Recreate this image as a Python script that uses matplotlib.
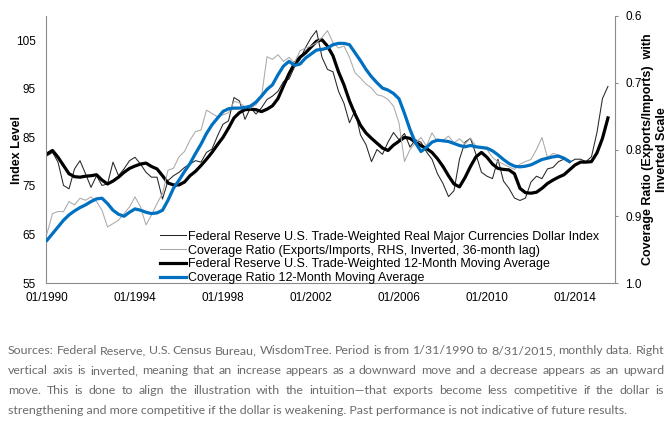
import matplotlib
matplotlib.use("Agg")
import matplotlib.pyplot as plt
import numpy as np

# quarterly observation dates (fractional years), Jan-1990 .. Jul-2015
quarters = np.arange(1990.0, 2015.51, 0.25)

# Fed real major-currencies dollar index (left axis)
dollar_index = [
    81.2, 81.9, 79.9, 75.1, 74.4, 78.5, 80.2, 77.5, 74.7, 77.1, 75.1, 75.4,
    79.9, 77.1, 78.5, 80.2, 80.9, 79.5, 77.8, 76.8, 76.8, 72.3, 76.1, 77.1,
    77.8, 78.8, 79.5, 80.2, 79.9, 81.9, 82.6, 85.3, 87.7, 88.4, 93.2, 92.5,
    88.7, 91.1, 89.8, 91.1, 92.8, 93.5, 94.5, 96.5, 97.0, 99.5, 101.0, 103.5,
    105.5, 107.0, 101.5, 99.0, 98.5, 94.5, 92.0, 88.0, 90.5, 85.5, 83.5, 80.0,
    82.5, 81.5, 84.0, 86.0, 84.5, 85.8, 83.0, 84.5, 84.0, 82.0, 80.5, 77.5,
    75.5, 72.8, 74.0, 80.5, 84.0, 84.8, 81.5, 77.8, 77.0, 76.5, 80.5, 76.0,
    74.5, 72.5, 72.0, 72.5, 75.8, 77.0, 76.5, 78.5, 78.8, 80.0, 80.5, 79.8,
    80.5, 80.5, 80.0, 81.0, 86.0, 93.0, 95.5,
]

# 12-month moving average of the dollar index (left axis)
dollar_ma = [
    81.6, 82.3, 80.9, 79.2, 77.5, 76.9, 76.8, 77.0, 77.1, 77.3, 76.2, 75.4,
    76.0, 76.8, 77.8, 78.6, 79.1, 79.5, 79.7, 79.0, 78.5, 77.1, 75.6, 75.2,
    75.2, 75.8, 77.1, 78.0, 79.2, 80.5, 81.9, 83.5, 85.0, 86.9, 89.0, 90.1,
    90.7, 90.8, 90.7, 90.3, 90.8, 91.5, 93.0, 95.6, 98.1, 100.2, 101.5, 102.4,
    103.6, 104.8, 105.1, 103.8, 101.8, 98.5, 95.8, 92.5, 89.8, 87.5, 85.9, 84.8,
    83.8, 82.8, 82.3, 83.4, 84.2, 85.0, 84.8, 84.0, 83.3, 82.7, 81.9, 80.6,
    79.0, 77.1, 75.4, 74.8, 76.7, 79.0, 81.0, 81.9, 80.9, 79.5, 78.6, 78.4,
    78.3, 77.5, 74.5, 73.6, 73.5, 73.7, 74.5, 75.5, 76.2, 76.8, 77.3, 78.3,
    79.3, 79.9, 79.9, 80.0, 81.8, 84.8, 89.0,
]

# coverage ratio exports/imports, 36-month lag (right axis, inverted)
coverage_ratio = [
    0.926, 0.896, 0.893, 0.893, 0.878, 0.883, 0.873, 0.876, 0.871, 0.878, 0.891, 0.916,
    0.911, 0.906, 0.896, 0.886, 0.871, 0.886, 0.913, 0.898, 0.881, 0.866, 0.831, 0.828,
    0.811, 0.803, 0.786, 0.773, 0.771, 0.741, 0.746, 0.751, 0.748, 0.745, 0.728, 0.730,
    0.736, 0.738, 0.733, 0.721, 0.661, 0.665, 0.658, 0.668, 0.662, 0.670, 0.652, 0.648,
    0.645, 0.640, 0.632, 0.622, 0.640, 0.648, 0.645, 0.662, 0.685, 0.693, 0.702, 0.708,
    0.718, 0.720, 0.725, 0.735, 0.760, 0.818, 0.800, 0.790, 0.782, 0.795, 0.775, 0.788,
    0.786, 0.780, 0.790, 0.784, 0.792, 0.783, 0.795, 0.798, 0.800, 0.812, 0.818, 0.822,
    0.826, 0.830, 0.822, 0.818, 0.815, 0.800, 0.782, 0.812, 0.806, 0.808, 0.812, 0.818,
]

# 12-month moving average of the coverage ratio (right axis, inverted)
coverage_ma = [
    0.936, 0.926, 0.916, 0.906, 0.898, 0.892, 0.887, 0.883, 0.878, 0.874, 0.873, 0.881,
    0.891, 0.897, 0.900, 0.894, 0.889, 0.891, 0.894, 0.896, 0.895, 0.891, 0.876, 0.858,
    0.846, 0.833, 0.821, 0.806, 0.792, 0.776, 0.763, 0.753, 0.743, 0.739, 0.738, 0.738,
    0.737, 0.735, 0.729, 0.720, 0.710, 0.703, 0.688, 0.675, 0.668, 0.674, 0.672, 0.663,
    0.657, 0.651, 0.650, 0.648, 0.643, 0.641, 0.641, 0.643, 0.655, 0.667, 0.680, 0.691,
    0.700, 0.708, 0.711, 0.716, 0.724, 0.746, 0.770, 0.790, 0.803, 0.797, 0.789, 0.786,
    0.787, 0.788, 0.791, 0.794, 0.796, 0.794, 0.796, 0.797, 0.798, 0.802, 0.808, 0.815,
    0.821, 0.825, 0.826, 0.825, 0.823, 0.819, 0.815, 0.813, 0.811, 0.810, 0.813, 0.818,
]

xtick_years = [1990, 1994, 1998, 2002, 2006, 2010, 2014]
xtick_labels = ["01/1990", "01/1994", "01/1998", "01/2002", "01/2006", "01/2010", "01/2014"]
left_ticks = [55, 65, 75, 85, 95, 105]
right_ticks = [0.6, 0.7, 0.8, 0.9, 1.0]

legend_labels = [
    "Federal Reserve U.S. Trade-Weighted Real Major Currencies Dollar Index",
    "Coverage Ratio (Exports/Imports, RHS, Inverted, 36-month lag)",
    "Federal Reserve U.S. Trade-Weighted 12-Month Moving Average",
    "Coverage Ratio 12-Month Moving Average",
]

footnote_lines = [
    "Sources: Federal Reserve, U.S. Census Bureau, WisdomTree. Period is from 1/31/1990 to 8/31/2015, monthly data. Right",
    "vertical axis is inverted, meaning that an increase appears as a downward move and a decrease appears as an upward",
    "move. This is done to align the illustration with the intuition\u2014that exports become less competitive if the dollar is",
    "strengthening and more competitive if the dollar is weakening. Past performance is not indicative of future results.",
]

W, H = 670, 426
SPINE = "#8c8c8c"

plt.rcParams.update({
    "font.family": "Liberation Sans",
    "font.size": 8.5,
    "text.color": "black",
})

fig = plt.figure(figsize=(W / 100, H / 100), dpi=100)
ax = fig.add_axes([45.7 / W, 1 - 283 / H, (615 - 45.7) / W, 267 / H])
ax2 = ax.twinx()

h1, = ax.plot(quarters, dollar_index, color="#262626", lw=0.75)
h3, = ax.plot(quarters, dollar_ma, color="black", lw=2.3)
h2, = ax2.plot(quarters[:len(coverage_ratio)], coverage_ratio, color="#a9a9a9", lw=0.75)
h4, = ax2.plot(quarters[:len(coverage_ma)], coverage_ma, color="#0070c0", lw=2.3)

ax.set_xlim(1989.94, 2015.82)
ax.set_ylim(55, 110)
ax.set_yticks(left_ticks)
ax.set_xticks(xtick_years)
ax.set_xticklabels(xtick_labels)
ax2.set_ylim(1.0, 0.6)
ax2.set_yticks(right_ticks)
ax2.set_yticklabels([f"{t:.1f}" for t in right_ticks])

for a in (ax, ax2):
    a.spines["top"].set_visible(False)
    for s in ("left", "right", "bottom"):
        a.spines[s].set_color(SPINE)
        a.spines[s].set_linewidth(0.8)
ax.spines["right"].set_visible(False)
ax2.spines["left"].set_visible(False)
ax2.spines["bottom"].set_visible(False)

ax.tick_params(axis="y", length=0, pad=7)
ax.tick_params(axis="x", length=0, pad=6.5)
ax2.tick_params(axis="y", length=2.5, pad=5, color=SPINE, width=0.8)

leg = ax2.legend(
    [h1, h2, h3, h4], legend_labels,
    loc="lower left", bbox_to_anchor=(0.2, -0.005),
    frameon=False, handlelength=2.1, handletextpad=0.2,
    labelspacing=0.15, borderpad=0, borderaxespad=0, fontsize=9,
)

fig.text(17 / W, 1 - 149.5 / H, "Index Level", rotation=90, ha="center", va="center",
         fontweight="bold", fontsize=9)
fig.text(655 / W, 1 - 149.5 / H, "Coverage Ratio (Exports/Imports)  with\nInverted Scale",
         rotation=90, ha="center", va="center", multialignment="center",
         fontweight="bold", fontsize=9, linespacing=1.15)

# footnote, justified like the source page
note_kw = dict(fontsize=8.9, color="#6b6b6b", family="Lato", va="baseline")
renderer = fig.canvas.get_renderer()
x0, x1 = 8.0, 664.0
for i, line in enumerate(footnote_lines):
    y = 1 - (354.5 + 19.9 * i) / H
    if i == len(footnote_lines) - 1:
        fig.text(x0 / W, y, line, **note_kw)
        continue
    words = line.split()
    arts = [fig.text(0, y, w, **note_kw) for w in words]
    widths = [a.get_window_extent(renderer).width for a in arts]
    gap = ((x1 - x0) - sum(widths)) / (len(words) - 1)
    x = x0
    for a, w in zip(arts, widths):
        a.set_x(x / W)
        x += w + gap

fig.savefig("out.png", dpi=100)
